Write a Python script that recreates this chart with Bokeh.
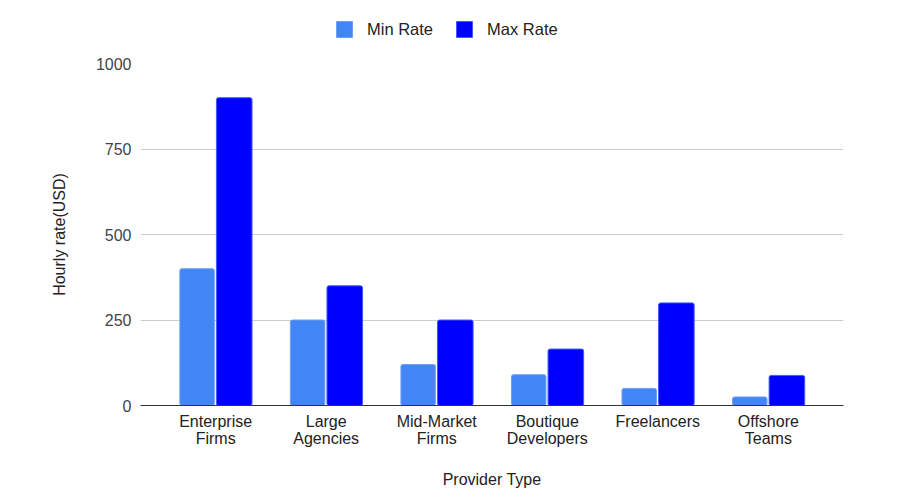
from bokeh.plotting import figure
from bokeh.models import ColumnDataSource, Range1d, Legend, LegendItem, FixedTicker
from bokeh.transform import dodge
from bokeh.layouts import column
from bokeh.embed import file_html
from bokeh.resources import INLINE

categories = ["Enterprise\nFirms", "Large\nAgencies", "Mid-Market\nFirms", "Boutique\nDevelopers", "Freelancers", "Offshore\nTeams"]
min_rate = [400, 250, 120, 90, 50, 25]
max_rate = [900, 350, 250, 165, 300, 88]
y_ticks = [0, 250, 500, 750, 1000]
series_names = ["Min Rate", "Max Rate"]
series_cols = ["mn", "mx"]
series_colors = ["#4285F4", "#0000FF"]
series_borders = ["#6fa0f7", "#3c5cff"]

pos = list(range(len(categories)))
src = ColumnDataSource(dict(x=pos, mn=min_rate, mx=max_rate))

FONT = "Liberation Sans"

# ---- legend strip on top (its bars fall outside its view; only the legend shows) ----
top = figure(width=901, height=48, output_backend="svg", toolbar_location=None,
             x_range=Range1d(100, 200), y_range=Range1d(5000, 5048),
             min_border_left=0, min_border_right=0, min_border_top=0, min_border_bottom=0,
             x_axis_type=None, y_axis_type=None)
top.outline_line_color = None
top.xgrid.visible = False
top.ygrid.visible = False
leg_renderers = []
for col, fc, lc in zip(series_cols, series_colors, series_borders):
    leg_renderers.append(top.vbar(x="x", top=col, width=0.3, source=src,
                                  fill_color=fc, line_color=lc, line_width=1))
legend = Legend(items=[LegendItem(label=n, renderers=[r]) for n, r in zip(series_names, leg_renderers)],
                orientation="horizontal", location=(194, 9),
                border_line_color=None, background_fill_alpha=0,
                label_text_font=FONT, label_text_font_size="16.5px", label_text_color="#222222",
                glyph_width=20, glyph_height=20, label_standoff=13, spacing=21,
                padding=0, margin=0)
top.add_layout(legend, "center")

# ---- main chart ----
p = figure(width=901, height=451, output_backend="svg", toolbar_location=None,
           x_range=Range1d(-0.68, len(categories) - 0.32),
           y_range=Range1d(0, 1000), min_border_left=140, min_border_right=58,
           min_border_top=15, min_border_bottom=94)
p.outline_line_color = None

p.vbar(x=dodge("x", -0.168), top="mn", width=0.312, source=src,
       fill_color=series_colors[0], line_color=series_borders[0], line_width=1, border_radius=2)
p.vbar(x=dodge("x", 0.168), top="mx", width=0.322, source=src,
       fill_color=series_colors[1], line_color=series_borders[1], line_width=1, border_radius=2)

p.yaxis.ticker = FixedTicker(ticks=y_ticks)
p.yaxis.axis_line_color = None
p.yaxis.major_tick_line_color = None
p.yaxis.minor_tick_line_color = None
p.yaxis.major_tick_out = 0
p.yaxis.major_tick_in = 0
p.yaxis.major_label_text_font = FONT
p.yaxis.major_label_text_font_size = "16px"
p.yaxis.major_label_text_color = "#444444"
p.yaxis.major_label_standoff = 9
p.yaxis.axis_label = "Hourly rate(USD)"
p.yaxis.axis_label_text_font = FONT
p.yaxis.axis_label_text_font_size = "16px"
p.yaxis.axis_label_text_font_style = "normal"
p.yaxis.axis_label_text_color = "#222222"
p.yaxis.axis_label_standoff = 25

p.xaxis.ticker = FixedTicker(ticks=pos)
p.xaxis.major_label_overrides = {i: c for i, c in zip(pos, categories)}
p.xaxis.axis_line_color = "#333333"
p.xaxis.axis_line_width = 1
p.xaxis.major_tick_line_color = None
p.xaxis.minor_tick_line_color = None
p.xaxis.major_tick_out = 0
p.xaxis.major_tick_in = 0
p.xaxis.major_label_text_font = FONT
p.xaxis.major_label_text_font_size = "16px"
p.xaxis.major_label_text_line_height = 1.0
p.xaxis.major_label_text_color = "#222222"
p.xaxis.major_label_standoff = 7
p.xaxis.axis_label = "Provider Type"
p.xaxis.axis_label_text_font = FONT
p.xaxis.axis_label_text_font_size = "16px"
p.xaxis.axis_label_text_font_style = "normal"
p.xaxis.axis_label_text_color = "#222222"
p.xaxis.axis_label_standoff = 21

p.xgrid.grid_line_color = None
p.ygrid.grid_line_color = "#cccccc"
p.ygrid.grid_line_width = 1

layout = column(top, p, spacing=0)
open("out.html", "w").write(file_html(layout, INLINE))
